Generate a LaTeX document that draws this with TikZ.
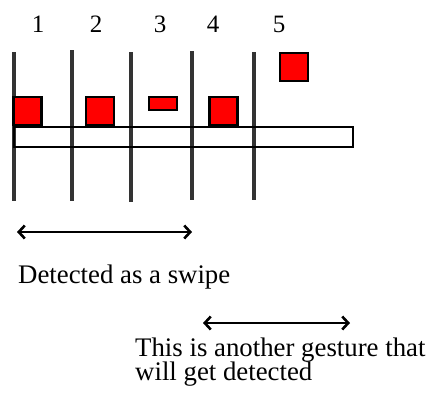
\documentclass[tikz,border=0pt]{standalone}
\usepackage{fontspec}
\setmainfont{Liberation Serif}
\usetikzlibrary{arrows.meta}
\definecolor{linegray}{HTML}{333333}
\begin{document}
\begin{tikzpicture}[x=1pt,y=-1pt,
  divider/.style={draw=linegray,line width=3.2pt},
  redbox/.style={draw=black,fill=red,line width=2.2pt,inner sep=0pt,minimum width=28pt,minimum height=28pt},
  flatbox/.style={redbox,minimum height=13pt},
  bar/.style={draw=black,line width=2pt},
  label/.style={font=\fontsize{26.8}{24}\selectfont,inner sep=0pt,anchor=base west},
  digit/.style={font=\fontsize{25}{25}\selectfont,inner sep=0pt,anchor=base},
  span/.style={line width=2.4pt,{Straight Barb[length=6pt,width=13pt,line width=2.6pt]}-{Straight Barb[length=6pt,width=13pt,line width=2.6pt]}}]
\useasboundingbox (0,0) rectangle (427,394);
% numbers
\node[digit] (n1) at (38,32) {1};
\node[digit] (n2) at (96,32) {2};
\node[digit] (n3) at (160,32) {3};
\node[digit] (n4) at (213,32) {4};
\node[digit] (n5) at (279,32) {5};
% vertical lines
\coordinate (l1t) at (14,52);  \coordinate (l1b) at (14,201);
\coordinate (l2t) at (72,50);  \coordinate (l2b) at (72,201);
\coordinate (l3t) at (131,52); \coordinate (l3b) at (131,202);
\coordinate (l4t) at (192,51); \coordinate (l4b) at (192,200);
\coordinate (l5t) at (254,52); \coordinate (l5b) at (254,200);
\draw[divider] (l1t) -- (l1b);
\draw[divider] (l2t) -- (l2b);
\draw[divider] (l3t) -- (l3b);
\draw[divider] (l4t) -- (l4b);
\draw[divider] (l5t) -- (l5b);
% bar
\coordinate (bar1) at (14,127);
\coordinate (bar2) at (353,147);
\draw[bar] (bar1) rectangle (bar2);
% red boxes
\node[redbox] (b1) at (27.5,111) {};
\node[redbox] (b2) at (100,111) {};
\node[flatbox] (b3) at (163,103.5) {};
\node[redbox] (b4) at (223.5,111) {};
\node[redbox] (b5) at (294,67) {};
% arrows
\coordinate (a1l) at (17,232);  \coordinate (a1r) at (192,232);
\coordinate (a2l) at (203,323); \coordinate (a2r) at (350,323);
\draw[span] (a1l) -- (a1r);
\draw[span] (a2l) -- (a2r);
% texts
\node[label] (t1) at (18,283) {Detected as a swipe};
\node[label] (t2) at (135,356) {This is another gesture that};
\node[label] (t3) at (135,380) {will get detected};
\end{tikzpicture}
\end{document}
